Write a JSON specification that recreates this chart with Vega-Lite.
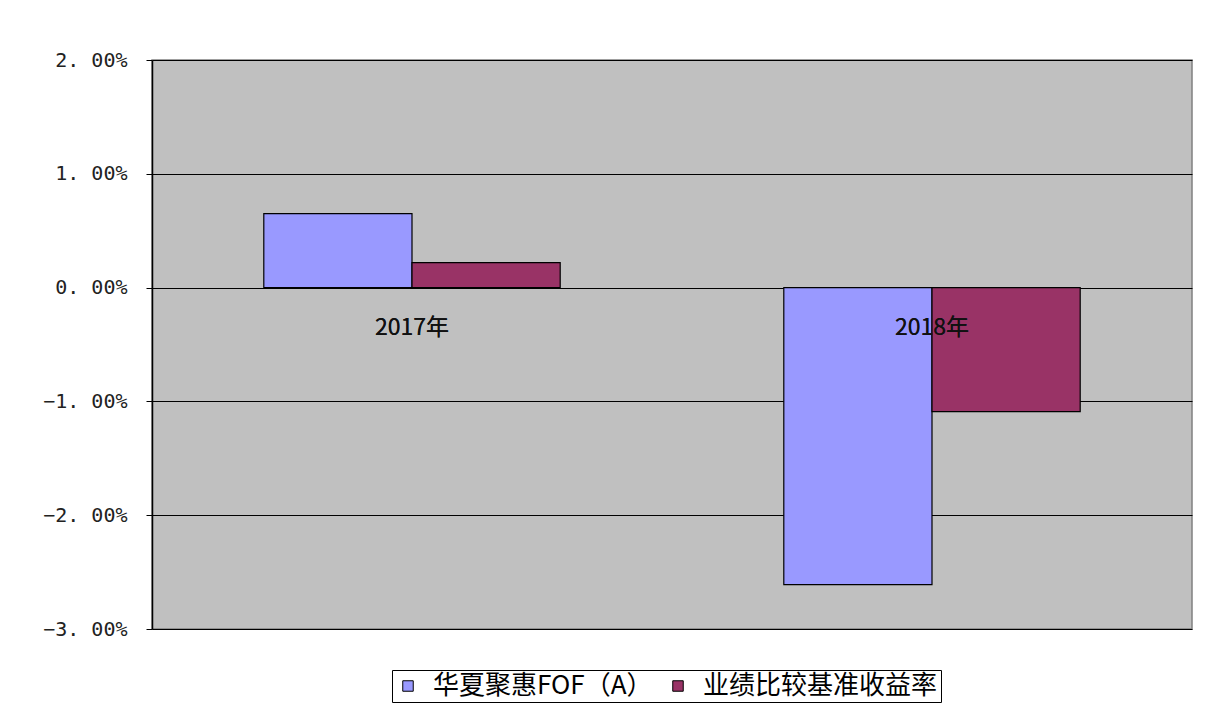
{
  "$schema": "https://vega.github.io/schema/vega-lite/v6.json",
  "width": 1040,
  "height": 569,
  "autosize": {"type": "none"},
  "padding": {"left": 152, "top": 60, "right": 15, "bottom": 84},
  "background": "white",
  "config": {
    "view": {"fill": "#C0C0C0", "stroke": "#808080", "strokeWidth": 1.5},
    "font": "Noto Sans CJK SC"
  },
  "data": {
    "values": [
      {"year": "2017年", "series": "华夏聚惠FOF（A）", "value": 0.0065},
      {"year": "2017年", "series": "业绩比较基准收益率", "value": 0.0022},
      {"year": "2018年", "series": "华夏聚惠FOF（A）", "value": -0.0261},
      {"year": "2018年", "series": "业绩比较基准收益率", "value": -0.0109}
    ]
  },
  "layer": [
    {
      "mark": {"type": "bar", "stroke": "black", "strokeWidth": 1.2},
      "encoding": {
        "x": {
          "field": "year", "type": "nominal", "sort": ["2017年", "2018年"],
          "scale": {"paddingInner": 0.43, "paddingOuter": 0.215},
          "axis": null
        },
        "xOffset": {"field": "series", "type": "nominal", "sort": ["华夏聚惠FOF（A）", "业绩比较基准收益率"], "scale": {"paddingInner": 0, "paddingOuter": 0}},
        "y": {
          "field": "value", "type": "quantitative",
          "scale": {"domain": [-0.03, 0.02], "nice": false, "zero": false},
          "axis": {
            "title": null,
            "values": [-0.03, -0.02, -0.01, 0, 0.01, 0.02],
            "labelExpr": "replace(format(datum.value, '.2%'), '.', '. ')",
            "labelFont": "DejaVu Sans Mono",
            "labelFontSize": 20,
            "labelColor": "#222222",
            "labelPadding": 19,
            "tickSize": 6,
            "tickColor": "black",
            "domainColor": "black",
            "domainWidth": 1.5,
            "grid": true,
            "gridColor": "black",
            "gridWidth": 1,
            "gridOpacity": 1
          }
        },
        "color": {
          "field": "series", "type": "nominal",
          "sort": ["华夏聚惠FOF（A）", "业绩比较基准收益率"],
          "scale": {"domain": ["华夏聚惠FOF（A）", "业绩比较基准收益率"], "range": ["#9999FF", "#993366"]},
          "legend": {
            "title": null,
            "orient": "none",
            "legendX": 240,
            "legendY": 610,
            "direction": "horizontal",
            "symbolType": "square",
            "symbolSize": 110,
            "symbolStrokeColor": "black",
            "symbolStrokeWidth": 1,
            "symbolOpacity": 1,
            "labelFontSize": 26,
            "labelLimit": 500,
            "labelColor": "black",
            "labelOffset": 12,
            "columnPadding": 12,
            "strokeColor": "black",
            "fillColor": "white",
            "padding": 3
          }
        }
      }
    },
    {
      "mark": {"type": "text", "dy": 40, "fontSize": 23, "color": "#111111"},
      "encoding": {
        "x": {"field": "year", "type": "nominal", "sort": ["2017年", "2018年"]},
        "y": {"datum": 0},
        "text": {"field": "year"},
        "detail": {"field": "year"}
      }
    }
  ]
}
